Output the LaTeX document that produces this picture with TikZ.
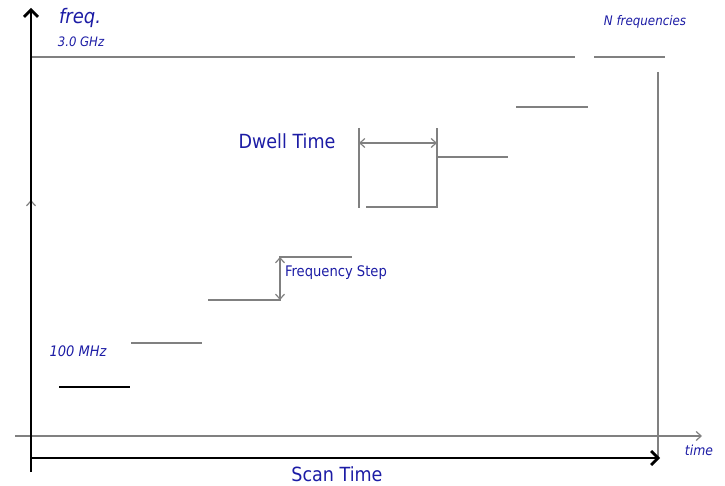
\documentclass[tikz,border=0pt]{standalone}
\usepackage{fontspec}
\setmainfont{DejaVu Sans Condensed}
\usetikzlibrary{arrows.meta}
\definecolor{lbl}{RGB}{28,28,165}
\definecolor{ln}{RGB}{128,128,128}
\tikzset{
  x=1pt, y=-1pt,
  thin line/.style={draw=ln, line width=1.2pt},
  thick axis/.style={draw=black, line width=2.8pt},
  lbl/.style={text=lbl, inner sep=0pt, anchor=center},
  ital/.style={lbl, font=\itshape},
  openarr/.style={-{Straight Barb[length=5pt,width=9pt]}},
  dblarr/.style={{Straight Barb[length=5pt,width=9pt]}-{Straight Barb[length=5pt,width=9pt]}},
}
\begin{document}
\begin{tikzpicture}
\useasboundingbox (0,0) rectangle (725,486);
% coordinates
\coordinate (yb) at (31,472);
\coordinate (yt) at (31,8);
\coordinate (gyb) at (31,450);
\coordinate (gyt) at (31,200);
\coordinate (txl) at (15,436);
\coordinate (txr) at (702,436);
\coordinate (sxl) at (31,458);
\coordinate (sxr) at (660,458);
\coordinate (vrt) at (658,72);
\coordinate (vrb) at (658,458);
\coordinate (ga) at (31,57);
\coordinate (gb) at (575,57);
\coordinate (gc) at (594,57);
\coordinate (gd) at (665,57);
% steps
\coordinate (s1a) at (59,387); \coordinate (s1b) at (130,387);
\coordinate (s2a) at (131,343); \coordinate (s2b) at (202,343);
\coordinate (s3a) at (208,300); \coordinate (s3b) at (280,300);
\coordinate (s4a) at (280,257); \coordinate (s4b) at (352,257);
\coordinate (d1t) at (359,128); \coordinate (d1b) at (359,208);
\coordinate (s5a) at (366,207); \coordinate (s5b) at (437,207);
\coordinate (d2t) at (437,128);
\coordinate (da) at (359,143); \coordinate (db) at (437,143);
\coordinate (s6a) at (437,157); \coordinate (s6b) at (508,157);
\coordinate (s7a) at (516,107); \coordinate (s7b) at (588,107);

% thin axes
\draw[thin line, openarr] (txl) -- (txr);
\draw[thin line, openarr] (gyb) -- (gyt);
\draw[thin line] (vrt) -- (vrb);
\draw[thin line] (ga) -- (gb);
\draw[thin line] (gc) -- (gd);
% steps
\draw[draw=black, line width=2.2pt] (s1a) -- (s1b);
\draw[thin line] (s2a) -- (s2b);
\draw[thin line] (s3a) -- (s3b) -- (s4a) -- (s4b);
\draw[thin line, dblarr] (s3b) -- (s4a);
\draw[thin line] (d1t) -- (d1b);
\draw[thin line] (s5a) -- (s5b) -- (d2t);
\draw[thin line, dblarr] (da) -- (db);
\draw[thin line] (s6a) -- (s6b);
\draw[thin line] (s7a) -- (s7b);
% thick axes
\draw[thick axis, -{Straight Barb[length=7pt,width=14pt]}] (yb) -- (yt);
\draw[thick axis, -{Straight Barb[length=7pt,width=14pt]}] (sxl) -- (sxr);

% labels
\node[ital, font=\itshape\fontsize{20}{22}\selectfont] (freq) at (80,18) {freq.};
\node[ital, font=\itshape\fontsize{13}{15}\selectfont] (ghz) at (81,42) {3.0 GHz};
\node[ital, font=\itshape\fontsize{13.2}{15}\selectfont] (nf) at (645,22) {N frequencies};
\node[lbl, font=\fontsize{19.5}{22}\selectfont] (dwell) at (287,141) {Dwell Time};
\node[lbl, font=\fontsize{14.6}{16}\selectfont] (fstep) at (336,273) {Frequency Step};
\node[ital, font=\itshape\fontsize{14.5}{16}\selectfont] (mhz) at (78,351) {100 MHz};
\node[ital, font=\itshape\fontsize{13.8}{16}\selectfont] (time) at (699,450) {time};
\node[lbl, font=\fontsize{19.5}{22}\selectfont] (scan) at (337,474) {Scan Time};
\end{tikzpicture}
\end{document}
